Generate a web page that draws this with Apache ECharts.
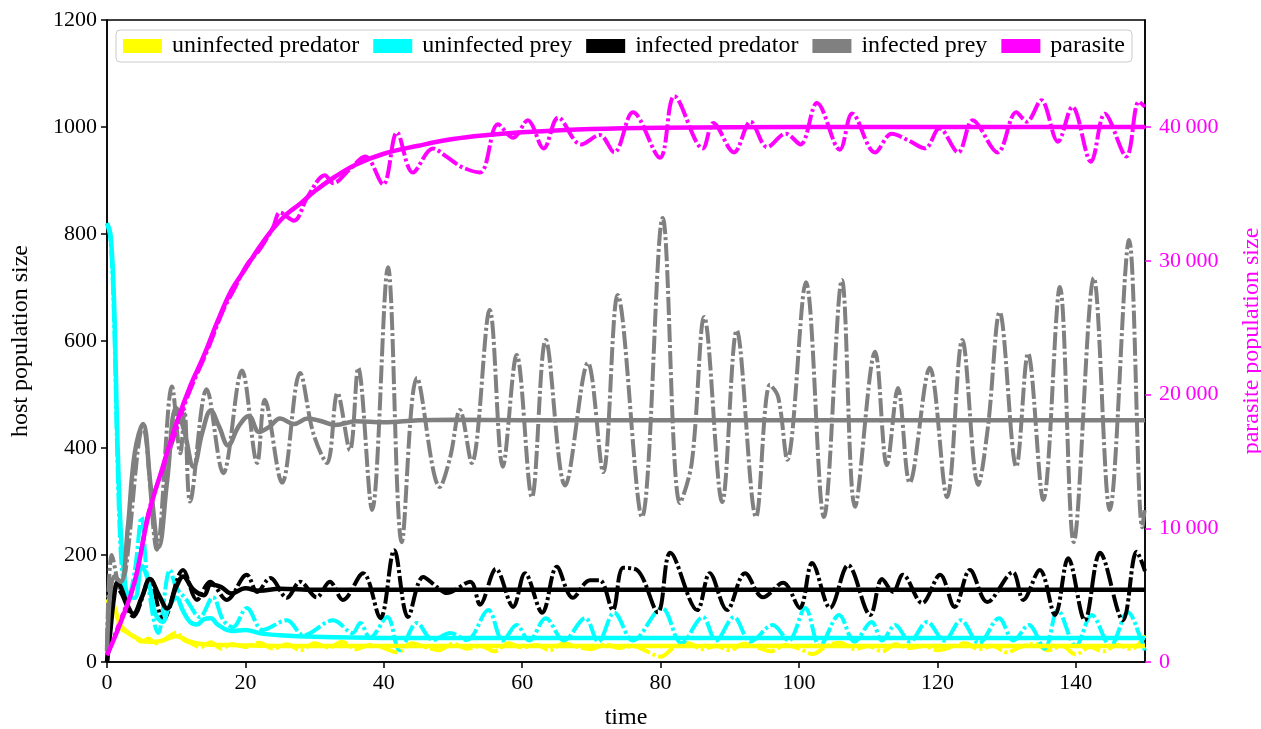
<!DOCTYPE html>
<html>
<head>
<meta charset="utf-8">
<script src="https://cdn.jsdelivr.net/npm/echarts@6/dist/echarts.min.js"></script>
<style>
  html, body { margin: 0; padding: 0; background: #fff; }
  #chart { width: 1261px; height: 729px; }
</style>
</head>
<body>
<div id="chart"></div>
<script>
// legend names and colours
const names = ['uninfected predator', 'uninfected prey', 'infected predator', 'infected prey', 'parasite'];
const colors = ['#ffff00', '#00ffff', '#000000', '#808080', '#ff00ff'];

// tick labels
const xTicks = [0, 20, 40, 60, 80, 100, 120, 140];
const parasiteTicks = [0, 10000, 20000, 30000, 40000];

// uninfected predator (yellow)
const uPredT = [0, 0.5, 1, 1.5, 2, 3, 4, 5, 6, 7, 8, 9, 10, 11, 12, 14, 16, 18, 20, 25, 30, 40, 150];
const uPredV = [110, 118, 105, 85, 68, 55, 47, 40, 38, 38, 40, 45, 48, 44, 38, 33, 32, 32, 31, 30, 30, 30, 30];
const uPredSimT = [0, 0.5, 1, 1.5, 2, 3, 4, 5, 6, 7, 8, 9, 10, 11, 12, 13.5, 15, 16.5, 18, 20, 22, 24, 26, 28, 30, 32, 34, 36, 38, 40,
  42, 44, 46, 48, 50, 52, 54, 56, 58, 60, 62, 64, 66, 68, 70, 72, 74, 76, 78, 80, 82, 84, 86, 88, 90, 92, 94, 96, 98, 100,
  102, 104, 106, 108, 110, 112, 114, 116, 118, 120, 122, 124, 126, 128, 130, 132, 134, 136, 138, 140, 142, 144, 146, 148, 150];
const uPredSimV = [110, 115, 95, 80, 62, 55, 46, 38, 44, 35, 40, 48, 55, 42, 36, 28, 37, 25, 33, 28, 36, 25, 33, 22, 35, 27, 38, 24, 32, 26,
  18, 35, 28, 22, 34, 25, 30, 20, 35, 27, 32, 22, 35, 28, 24, 33, 26, 30, 20, 10, 28, 35, 24, 30, 22, 34, 27, 20, 32, 25,
  15, 30, 36, 24, 30, 20, 33, 26, 30, 22, 28, 35, 24, 30, 18, 28, 34, 22, 30, 14, 28, 20, 32, 24, 50];

// uninfected prey (cyan)
const uPreyT = [0, 0.5, 1, 1.5, 2, 2.5, 3, 4, 5, 6, 7, 8, 9, 10, 11, 12, 13, 14, 15, 16, 18, 20, 22, 25, 30, 40, 150];
const uPreyV = [820, 800, 680, 420, 240, 160, 125, 120, 180, 150, 90, 75, 105, 120, 95, 75, 70, 80, 82, 70, 58, 60, 54, 50, 47, 45, 45];
const uPreySimT = [0, 0.5, 1, 1.5, 2, 2.5, 3, 4, 5, 5.8, 7.4, 9.1, 10, 11.5, 13.4, 15.3, 16.8, 18.2, 20.2, 22.5, 26, 28.4, 32.7, 35.5, 36.6,
  38, 40.5, 42.3, 44.8, 47.1, 49.6, 52, 55.1, 57.2, 59.2, 61, 63.4, 66, 69.1, 71, 73.3, 76, 80.2, 83, 86.1, 88, 90.6, 93, 96.2,
  98.5, 100.9, 103, 105.8, 108, 110.5, 112, 113.9, 116, 118.5, 121, 123.4, 126, 128.9, 131, 133.2, 135.5, 137.4, 140, 142.3, 145,
  147.5, 149.5, 150];
const uPreySimV = [820, 790, 650, 380, 200, 140, 120, 170, 271, 160, 54, 172, 140, 116, 84, 121, 78, 65, 101, 60, 78, 50, 78, 54, 73,
  45, 84, 22, 73, 41, 54, 41, 97, 40, 69, 40, 82, 40, 82, 38, 92, 40, 101, 35, 84, 40, 84, 38, 69,
  40, 101, 30, 88, 38, 75, 40, 69, 38, 75, 40, 78, 35, 82, 40, 69, 25, 97, 30, 88, 30,
  93, 40, 20];

// infected predator (black)
const iPredT = [0, 0.5, 1, 1.5, 2, 3, 3.8, 5, 6.2, 7.5, 8.7, 10, 11, 12.5, 14, 15, 16.5, 18, 20, 22, 25, 30, 150];
const iPredV = [0, 60, 120, 148, 140, 105, 90, 120, 155, 125, 100, 140, 160, 135, 125, 145, 140, 128, 138, 133, 137, 135, 135];
const iPredSimT = [0, 0.5, 1.2, 2, 3.8, 6.2, 8.1, 11, 13, 14.9, 17.3, 20.2, 21.7, 23.6, 26, 27.9, 30.3, 32.2, 34.1, 37, 39.5, 41.5,
  43.5, 45.7, 47.7, 49.1, 52.5, 53.9, 56.2, 58.7, 60.4, 62.9, 65, 67.3, 69.8, 71.2, 73.1, 74.6, 76.6, 79.6, 81.4, 85.3, 87.1,
  89.6, 92.2, 94.8, 97.7, 100.1, 101.9, 104.5, 107.1, 110.3, 112, 113.6, 115, 117.8, 120.4, 122.5, 124.7, 127.2, 130.9, 132.4,
  134.8, 137, 138.9, 141.3, 143.5, 146.8, 148.8, 150];
const iPredSimV = [0, 70, 140, 130, 85, 153, 78, 172, 116, 150, 116, 163, 131, 157, 120, 150, 121, 150, 116, 166, 82, 209,
  84, 159, 140, 129, 150, 107, 174, 103, 166, 92, 178, 120, 153, 153, 97, 176, 172, 93, 204, 97, 166,
  97, 166, 121, 148, 101, 185, 101, 181, 88, 155, 131, 163, 110, 163, 103, 172, 112, 168, 116,
  172, 88, 194, 78, 204, 78, 206, 170];

// infected prey (grey)
const iPreyT = [0, 1, 2, 3, 4, 5.2, 6.3, 7.5, 8.7, 10, 11.2, 12.5, 13.8, 15, 16.2, 17.5, 19, 20.5, 22, 23.5, 25, 27, 29, 31, 33, 36, 40, 45, 50, 60, 150];
const iPreyV = [20, 160, 150, 250, 390, 445, 330, 215, 340, 475, 430, 365, 430, 470, 440, 405, 440, 460, 430, 440, 455, 445, 455, 450, 443, 450, 448, 452, 453, 452, 452];
const iPreySimT = [0, 0.7, 1.9, 5.2, 7.2, 9.4, 10.6, 11.2, 12, 14.4, 16.8, 19.5, 21.7, 22.8, 25.3, 27.9, 29.8, 31.8, 33.3, 35.1, 36.3,
  38.3, 40.6, 42.6, 44.8, 48.1, 49.6, 51, 52.7, 55.3, 57.2, 59.2, 61.4, 63.4, 66.2, 69.5, 71.7, 73.8, 77.3, 80.3, 82.8, 84.5,
  86.3, 88.9, 91, 93.8, 95.8, 97, 98.3, 101, 103.6, 106.2, 108.1, 111, 112.7, 114.3, 116, 118.9, 121.4, 123.6, 125.9, 127.3,
  129, 131.4, 133.1, 135.3, 137.7, 139.7, 142.6, 144.9, 147.7, 149.6, 150];
const iPreySimV = [30, 200, 135, 440, 210, 515, 390, 470, 300, 510, 353, 545, 372, 490, 335, 540, 428, 372, 503, 396, 550,
  284, 738, 224, 531, 327, 383, 471, 372, 658, 365, 574, 308, 602, 330, 559, 355, 686, 271, 830, 297, 372,
  645, 299, 620, 271, 518, 495, 378, 710, 271, 714, 290, 580, 368, 512, 335, 550, 308, 602, 331, 439,
  654, 365, 577, 303, 701, 224, 718, 284, 789, 252, 290];

// parasite (magenta, right axis)
const parT = [0, 2, 4, 6, 8, 10, 12, 14, 16, 18, 20, 22, 24, 26, 28, 30, 33, 36, 40, 45, 50, 55, 60, 70, 80, 100, 150];
const parV = [500, 3000, 6000, 11000, 14500, 17800, 20600, 22900, 25500, 27800, 29400, 31000, 32400, 33500, 34300, 35200, 36300,
  37200, 38000, 38600, 39100, 39400, 39600, 39850, 39950, 40000, 40000];
const parSimT = [0, 2, 4, 6.2, 8.7, 11.6, 14.5, 16.8, 18.5, 20.2, 22, 24, 25, 27, 29, 31.5, 32.7, 35, 37.3, 39.9, 41.9, 44.2, 47.1,
  49, 51.3, 53.9, 56.5, 58.7, 60.8, 63.1, 65.2, 68.5, 71.2, 73.3, 76, 79.9, 82, 86.1, 87.6, 90.6, 93, 95.4, 98.1, 100.2,
  102.6, 105.9, 107.7, 111, 113.4, 115.8, 118.2, 120.3, 123, 125.1, 128.7, 131.4, 132.9, 135, 137.4, 139.5, 142.2, 144.2,
  147.3, 149.1, 150];
const parSimV = [500, 3200, 6000, 11600, 15300, 19800, 23300, 26300, 28000, 29700, 30800, 32500, 33600, 33000, 34800, 36400, 35800,
  36800, 37800, 35700, 39600, 36600, 38400, 37800, 37000, 36600, 40200, 39200, 40500, 38400, 40700, 38700, 39400, 38100,
  41100, 37700, 42300, 38400, 40300, 38100, 40400, 38500, 39500, 38700, 41800, 38300, 41000, 38100, 39500, 39000, 38400,
  39900, 38100, 40500, 38100, 41100, 40400, 42000, 38900, 41500, 37400, 41000, 37800, 41900, 41500];

const FONT = '"Liberation Serif", "DejaVu Serif", serif';

function pairs(t, v) {
  return t.map((x, i) => [x, v[i]]);
}

// stochastic run: dash-dot line
function simLine(i, t, v, axis) {
  return {
    name: names[i] + ' (simulation)',
    type: 'line',
    yAxisIndex: axis,
    data: pairs(t, v),
    smooth: 0.35,
    showSymbol: false,
    lineStyle: { color: colors[i], width: 4, type: [18, 3, 3, 3] },
    itemStyle: { color: colors[i] }
  };
}

// deterministic solution: solid line
function detLine(i, t, v, axis) {
  return {
    name: names[i],
    type: 'line',
    yAxisIndex: axis,
    data: pairs(t, v),
    smooth: 0.4,
    showSymbol: false,
    lineStyle: { color: colors[i], width: 4.5 },
    itemStyle: { color: colors[i] }
  };
}

const chart = echarts.init(document.getElementById('chart'));

chart.setOption({
  animation: false,
  backgroundColor: '#fff',
  grid: {
    left: 107, right: 116, top: 20, bottom: 67,
    outerBoundsMode: 'none',
    show: true, borderColor: '#000', borderWidth: 1.5
  },
  legend: {
    data: names,
    left: 116,
    top: 30,
    icon: 'rect',
    itemWidth: 39,
    itemHeight: 14,
    itemGap: 14,
    padding: [4, 7],
    borderColor: '#cccccc',
    borderWidth: 1,
    borderRadius: 4,
    backgroundColor: '#fff',
    textStyle: { fontFamily: FONT, fontSize: 24, color: '#000', padding: [0, 0, 0, 5] }
  },
  xAxis: {
    type: 'value',
    min: 0,
    max: 150,
    name: 'time',
    nameLocation: 'middle',
    nameGap: 44,
    nameTextStyle: { fontFamily: FONT, fontSize: 24, color: '#000' },
    axisLine: { lineStyle: { color: '#000', width: 1.5 } },
    axisTick: { length: 6, lineStyle: { color: '#000', width: 1.5 }, customValues: xTicks },
    axisLabel: { fontFamily: FONT, fontSize: 22, color: '#000', margin: 10, customValues: xTicks },
    splitLine: { show: false }
  },
  yAxis: [
    {
      type: 'value',
      min: 0,
      max: 1200,
      interval: 200,
      name: 'host population size',
      nameLocation: 'middle',
      nameGap: 74,
      nameTextStyle: { fontFamily: FONT, fontSize: 24, color: '#000' },
      axisLine: { show: true, lineStyle: { color: '#000', width: 1.5 } },
      axisTick: { show: true, length: 6, lineStyle: { color: '#000', width: 1.5 } },
      axisLabel: { fontFamily: FONT, fontSize: 22, color: '#000', margin: 10, formatter: v => String(v) },
      splitLine: { show: false }
    },
    {
      type: 'value',
      min: 0,
      max: 48000,
      name: 'parasite population size',
      nameLocation: 'middle',
      nameGap: 95,
      nameRotate: 90,
      nameTextStyle: { fontFamily: FONT, fontSize: 24, color: '#ff00ff' },
      axisLine: { show: true, lineStyle: { color: '#000', width: 1.5 } },
      axisTick: { show: true, length: 6, lineStyle: { color: '#ff00ff', width: 1.5 }, customValues: parasiteTicks },
      axisLabel: {
        fontFamily: FONT, fontSize: 22, color: '#ff00ff', margin: 14,
        customValues: parasiteTicks,
        formatter: v => String(v).replace(/\B(?=(\d{3})+(?!\d))/g, '\u2009')
      },
      splitLine: { show: false }
    }
  ],
  series: [
    simLine(0, uPredSimT, uPredSimV, 0),
    simLine(1, uPreySimT, uPreySimV, 0),
    simLine(2, iPredSimT, iPredSimV, 0),
    simLine(3, iPreySimT, iPreySimV, 0),
    simLine(4, parSimT, parSimV, 1),
    detLine(0, uPredT, uPredV, 0),
    detLine(1, uPreyT, uPreyV, 0),
    detLine(2, iPredT, iPredV, 0),
    detLine(3, iPreyT, iPreyV, 0),
    detLine(4, parT, parV, 1)
  ]
});
</script>
</body>
</html>
